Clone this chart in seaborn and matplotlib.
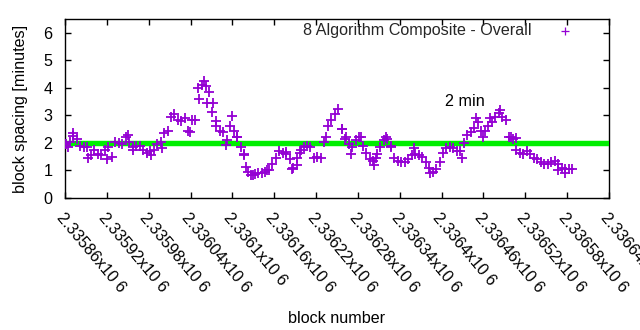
import numpy as np
import pandas as pd
import matplotlib
matplotlib.use("Agg")
import matplotlib.pyplot as plt
import seaborn as sns

# ---- data ----
block_start = 2335862
block_step = 5
spacing_minutes = [
    1.95, 2.05, 2.25, 2.15, 1.90, 1.85, 1.85, 1.55, 1.75, 1.60,
    1.55, 1.75, 1.85, 1.50, 2.05, 2.00, 1.95, 2.20, 2.05, 1.85,
    1.90, 1.90, 1.75, 1.65, 1.70, 1.75, 1.95, 2.05, 2.35, 2.45,
    2.95, 3.05, 2.85, 2.80, 2.90, 2.45, 2.85, 2.85, 3.60, 4.10,
    4.05, 3.85, 3.45, 2.80, 2.45, 2.40, 2.10, 2.60, 2.45, 2.20,
    1.85, 1.55, 0.95, 0.85, 0.88, 0.90, 0.92, 0.95, 1.00, 1.25,
    1.45, 1.70, 1.65, 1.60, 1.40, 1.10, 1.20, 1.65, 1.85, 1.90,
    1.85, 1.45, 1.50, 1.45, 2.05, 2.60, 2.85, 3.05, 3.25, 2.50,
    2.15, 1.95, 1.85, 2.10, 2.20, 1.90, 1.65, 1.40, 1.35, 1.60,
    1.85, 2.10, 2.15, 1.90, 1.45, 1.35, 1.30, 1.30, 1.40, 1.55,
    1.60, 1.55, 1.50, 1.30, 1.10, 0.95, 1.05, 1.30, 1.65, 1.80,
    1.85, 1.80, 1.70, 1.70, 2.00, 2.30, 2.40, 2.55, 2.75, 2.45,
    2.45, 2.60, 2.75, 2.95, 3.10, 2.95, 2.85, 2.20, 2.15, 1.75,
    1.65, 1.60, 1.70, 1.60, 1.45, 1.40, 1.30, 1.25, 1.25, 1.30,
    1.35, 1.25, 1.10, 1.05, 1.05, 1.05,
]
# scattered points lying off the main trend
extra_blocks = [
    2335871, 2335864, 2335893, 2335920, 2335950, 2335957, 2335984, 2335999,
    2336039, 2336059, 2336050, 2336064, 2336071, 2336077, 2336091, 2336099,
    2336106, 2336117, 2336120, 2336129, 2336149, 2336177, 2336186, 2336193,
    2336199, 2336234, 2336257, 2336263, 2336270, 2336284, 2336303, 2336306,
    2336320, 2336327, 2336360, 2336384, 2336429, 2336450, 2336460, 2336470,
    2336484, 2336499, 2336506, 2336567, 2336577,
]
extra_minutes = [
    2.35, 1.86, 1.44, 1.40, 2.29, 1.74, 1.56, 1.80,
    2.41, 4.25, 4.00, 3.44, 3.14, 2.60, 1.92, 2.96,
    2.23, 1.60, 1.13, 0.83, 1.00, 1.68, 1.07, 1.44,
    1.74, 2.23, 2.49, 2.23, 1.60, 2.23, 1.19, 1.44,
    2.20, 1.86, 1.80, 0.89, 1.44, 2.90, 2.23, 2.90,
    3.20, 2.23, 2.17, 1.01, 0.91,
]
target_minutes = 2
series_label = "8 Algorithm Composite - Overall"
target_label = "2 min"
target_label_pos = (2336433, 3.49)

x_range = (2335860, 2336640)
y_range = (0, 6.5)
xtick_values = [2335860, 2335920, 2335980, 2336040, 2336100, 2336160, 2336220,
                2336280, 2336340, 2336400, 2336460, 2336520, 2336580, 2336640]
xtick_labels = ["2.33586x10 6", "2.33592x10 6", "2.33598x10 6", "2.33604x10 6",
                "2.3361x10 6", "2.33616x10 6", "2.33622x10 6", "2.33628x10 6",
                "2.33634x10 6", "2.3364x10 6", "2.33646x10 6", "2.33652x10 6",
                "2.33658x10 6", "2.33664x10 6"]
ytick_values = [0, 1, 2, 3, 4, 5, 6]

blocks = block_start + block_step * np.arange(len(spacing_minutes))
df = pd.DataFrame({
    "block": np.concatenate([blocks, extra_blocks]),
    "spacing": np.concatenate([spacing_minutes, extra_minutes]),
}).sort_values("block")

# ---- style ----
sns.set_theme(style="ticks")
plt.rcParams["font.family"] = ["Liberation Sans", "DejaVu Sans"]
FS = 11.6
PURPLE = "#9400D3"
GREEN = "#00EE00"

fig = plt.figure(figsize=(6.4, 3.3), dpi=100)
ax = fig.add_axes([65 / 640, 1 - 198 / 330, (609 - 65) / 640, (198 - 19) / 330])

ax.axhline(target_minutes, color=GREEN, lw=3.9, zorder=3, solid_capstyle="butt")
sns.scatterplot(data=df, x="block", y="spacing", marker="+", color=PURPLE,
                s=55, linewidth=1.3, ax=ax, label=series_label, zorder=4)

ax.text(*target_label_pos, target_label, ha="center", va="center",
        fontsize=FS, color="black")

ax.set_xlim(*x_range)
ax.set_ylim(*y_range)
ax.set_xticks(xtick_values)
ax.set_xticklabels(xtick_labels, rotation=-50, ha="left", va="top",
                   rotation_mode="anchor", fontsize=FS)
ax.set_yticks(ytick_values)
ax.set_yticklabels([str(v) for v in ytick_values], fontsize=FS)

ax.tick_params(direction="in", length=4, width=1, top=True, right=True,
               colors="black")
ax.tick_params(axis="x", pad=9)
ax.tick_params(axis="y", pad=9)
for sp in ax.spines.values():
    sp.set_visible(True)
    sp.set_color("black")
    sp.set_linewidth(1)

ax.set_xlabel("block number", fontsize=FS, labelpad=11, color="black")
ax.set_ylabel("block spacing [minutes]", fontsize=FS, labelpad=11, color="black")

leg = ax.legend(loc="upper right", bbox_to_anchor=(0.949, 0.975),
                borderaxespad=0, borderpad=0, frameon=False, markerfirst=False,
                handletextpad=1.1, handlelength=2, fontsize=FS)
for h in leg.legend_handles:
    h.set_sizes([30])
    h.set_linewidth(0.9)

fig.savefig("out.png", dpi=100)
